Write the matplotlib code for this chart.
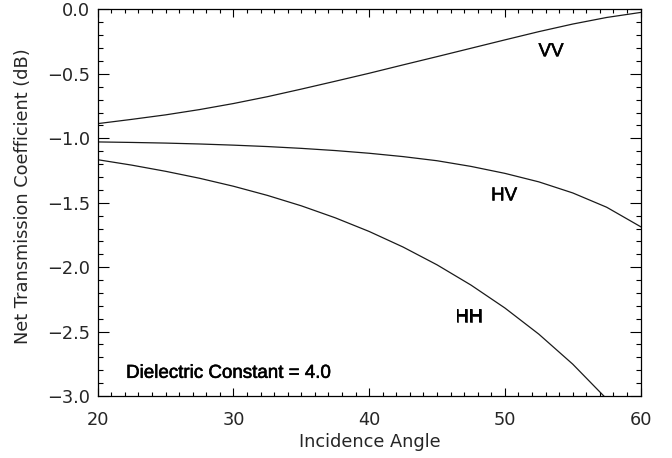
import numpy as np
import matplotlib
matplotlib.use("Agg")
import matplotlib.pyplot as plt
import matplotlib.patheffects as pe
from matplotlib.ticker import MultipleLocator, FuncFormatter

# two-way transmission loss through a dielectric interface (eps = 4.0)
angle = [20, 22.5, 25, 27.5, 30, 32.5, 35, 37.5, 40, 42.5, 45,
         47.5, 50, 52.5, 55, 57.5, 60]
vv = [-0.886, -0.853, -0.818, -0.777, -0.730, -0.677, -0.618, -0.557,
      -0.495, -0.430, -0.366, -0.301, -0.236, -0.172, -0.113, -0.062, -0.023]
hv = [-1.028, -1.032, -1.037, -1.044, -1.053, -1.064, -1.078, -1.095,
      -1.116, -1.142, -1.174, -1.218, -1.272, -1.338, -1.424, -1.535, -1.686]
hh = [-1.166, -1.208, -1.256, -1.310, -1.372, -1.443, -1.524, -1.617,
      -1.723, -1.844, -1.982, -2.139, -2.317, -2.520, -2.753, -3.023, -3.350]

tick_font = dict(family="DejaVu Sans", size=12.8, color="#262626")

fig = plt.figure(figsize=(6.72, 4.58), dpi=100)
ax = fig.add_axes([0.1454, 0.1354, 0.9533 - 0.1454, 0.9793 - 0.1354])

for y in (vv, hv, hh):
    ax.plot(angle, y, color="#1a1a1a", lw=0.9)

ax.set_xlim(20, 60)
ax.set_ylim(-3.0, 0.0)

ax.xaxis.set_major_locator(MultipleLocator(10))
ax.xaxis.set_minor_locator(MultipleLocator(1))
ax.yaxis.set_major_locator(MultipleLocator(0.5))
ax.yaxis.set_minor_locator(MultipleLocator(0.1))

def yfmt(v, pos):
    s = "%.1f" % v
    if s == "-0.0":
        s = "0.0"
    return s.replace("-", "\u2212")

ax.yaxis.set_major_formatter(FuncFormatter(yfmt))
ax.xaxis.set_major_formatter(FuncFormatter(lambda v, p: "%d" % v))

ax.tick_params(axis="x", which="both", direction="in", top=True, width=0.8,
               pad=10.8, color="black")
ax.tick_params(axis="x", which="major", length=5.5)
ax.tick_params(axis="x", which="minor", length=2.8)
ax.tick_params(axis="y", which="both", direction="in", right=True, width=0.8,
               pad=5.5, color="black")
ax.tick_params(axis="y", which="major", length=7.8)
ax.tick_params(axis="y", which="minor", length=3.9)

for lab in ax.get_xticklabels() + ax.get_yticklabels():
    lab.set_fontfamily(tick_font["family"])
    lab.set_fontsize(tick_font["size"])
    lab.set_color(tick_font["color"])

for sp in ax.spines.values():
    sp.set_linewidth(0.9)
    sp.set_color("black")

# curve labels and the annotation, drawn slightly heavier
lab_font = dict(family="Liberation Sans", size=13.5, color="black")
heavy = [pe.withStroke(linewidth=0.4, foreground="black")]
ax.text(53.4, -0.363, "VV", ha="center", va="baseline",
        path_effects=heavy, **lab_font)
ax.text(49.94, -1.482, "HV", ha="center", va="baseline",
        path_effects=heavy, **lab_font)
ax.text(47.33, -2.422, "HH", ha="center", va="baseline",
        path_effects=heavy, **lab_font)
ax.text(22.09, -2.859, "Dielectric Constant = 4.0", ha="left",
        va="baseline", path_effects=heavy, **lab_font)

fig.text(369.5 / 672, 1 - 446.7 / 458, "Incidence Angle", ha="center",
         va="baseline", **tick_font)
fig.text(23.5 / 672, 1 - 196 / 458, "Net Transmission Coefficient (dB)",
         ha="center", va="center", rotation=90, **tick_font)

fig.savefig("out.png", dpi=100)
